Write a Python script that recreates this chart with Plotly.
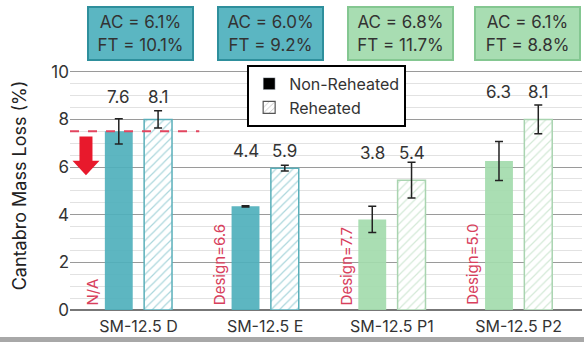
import plotly.graph_objects as go

categories = ["SM-12.5 D", "SM-12.5 E", "SM-12.5 P1", "SM-12.5 P2"]
non_reheated = [7.5, 4.35, 3.8, 6.25]
non_reheated_err = [0.53, 0.03, 0.55, 0.82]
reheated = [8.0, 5.95, 5.45, 8.0]
reheated_err = [0.36, 0.12, 0.75, 0.6]
label_non = ["7.6", "4.4", "3.8", "6.3"]
label_re = ["8.1", "5.9", "5.4", "8.1"]
label_y = [8.95, 6.68, 6.6, 9.16]
ac_values = ["6.1%", "6.0%", "6.8%", "6.1%"]
ft_values = ["10.1%", "9.2%", "11.7%", "8.8%"]
design_labels = ["N/A", "Design=6.6", "Design=7.7", "Design=5.0"]
threshold = 7.5

TEAL = "#4FB0BC"
GREEN = "#A3DBAD"
solid_colors = [TEAL, TEAL, GREEN, GREEN]
hatch_colors = ["#5AAFBA", "#5AAFBA", "#A9D4B0", "#A9D4B0"]
box_fill = ["#5BB6C2", "#5BB6C2", "#A8DDB2", "#A8DDB2"]
box_border = ["#2E8F9C", "#2E8F9C", "#84C791", "#84C791"]

FONT = "Inter, Open Sans, sans-serif"
TXT = "#333333"
W = 0.22

fig = go.Figure()

fig.add_trace(go.Bar(
    x=categories, y=non_reheated, width=W, offset=-0.265,
    marker=dict(color=solid_colors, line=dict(width=0), opacity=0.92),
    error_y=dict(type="data", array=non_reheated_err, color="#222222", thickness=1.5, width=4),
    showlegend=False, hoverinfo="skip",
))
fig.add_trace(go.Bar(
    x=categories, y=reheated, width=W, offset=0.045,
    marker=dict(color="white", line=dict(width=1.5, color=hatch_colors),
                pattern=dict(shape="/", fgcolor=hatch_colors, bgcolor="white", size=6, solidity=0.2)),
    error_y=dict(type="data", array=reheated_err, color="#222222", thickness=1.5, width=4),
    showlegend=False, hoverinfo="skip",
))
# legend entries
fig.add_trace(go.Bar(x=[None], y=[None], name="Non-Reheated", marker=dict(color="black")))
fig.add_trace(go.Bar(x=[None], y=[None], name="Reheated",
                     marker=dict(color="white", line=dict(width=1.2, color="#555555"),
                                 pattern=dict(shape="/", fgcolor="#777777", bgcolor="white", size=5, solidity=0.2))))

annotations = []
for i in range(len(categories)):
    annotations.append(dict(x=i - 0.155, y=label_y[i], xref="x", yref="y", text=label_non[i],
                            showarrow=False, font=dict(size=17, color=TXT, family=FONT)))
    annotations.append(dict(x=i + 0.155, y=label_y[i], xref="x", yref="y", text=label_re[i],
                            showarrow=False, font=dict(size=17, color=TXT, family=FONT)))
    annotations.append(dict(x=i - 0.36, y=0.12, xref="x", yref="y", text=design_labels[i],
                            textangle=-90, showarrow=False, xanchor="center", yanchor="bottom",
                            font=dict(size=15, color="#D8405C", family=FONT)))
    annotations.append(dict(x=[0.02, 1.04, 2.07, 3.07][i], y=1.11, xref="x", yref="paper",
                            xanchor="center", yanchor="middle",
                            text=f"AC = {ac_values[i]}<br>FT = {ft_values[i]}",
                            showarrow=False, bgcolor=box_fill[i], bordercolor=box_border[i],
                            borderwidth=2, borderpad=2, width=99, height=47,
                            font=dict(size=17, color=TXT, family=FONT)))

shapes = [
    dict(type="line", xref="x", yref="y", x0=-0.54, x1=0.48, y0=threshold, y1=threshold,
         line=dict(color="#E2455F", width=2, dash="dash")),
    dict(type="path", xref="paper", yref="y",
         path="M 0.0185 7.28 L 0.0439 7.28 L 0.0439 6.26 L 0.0576 6.26 L 0.0312 5.65 L 0.0049 6.26 L 0.0185 6.26 Z",
         fillcolor="#E8192C", line=dict(width=0)),
    dict(type="rect", xref="paper", yref="paper", x0=-0.2, x1=1.1, y0=-0.14, y1=-0.108,
         fillcolor="#A8A8A8", line=dict(width=0), layer="below"),
]

fig.update_layout(
    width=584, height=342,
    margin=dict(l=70, r=2, t=61, b=32),
    paper_bgcolor="white", plot_bgcolor="white",
    barmode="overlay",
    font=dict(family=FONT, color=TXT, size=16),
    showlegend=True,
    legend=dict(x=0.346, y=0.985, xanchor="left", yanchor="top",
                bordercolor="black", borderwidth=2, bgcolor="white",
                font=dict(size=16, color=TXT, family=FONT),
                tracegroupgap=0, itemwidth=30),
    annotations=annotations,
    shapes=shapes,
    xaxis=dict(type="category", range=[-0.54, 3.5], showgrid=False, showline=False,
               ticks="", tickfont=dict(size=16, color=TXT), zeroline=False,
               ticklabelstandoff=5),
    yaxis=dict(range=[0, 10.45], tickvals=[0, 2, 4, 6, 8, 10], showgrid=True,
               gridcolor="#9A9A9A", gridwidth=1, zeroline=True, zerolinecolor="#777777",
               zerolinewidth=1.5, ticks="", tickfont=dict(size=17, color=TXT),
               minor=dict(dtick=0.5, showgrid=True, gridcolor="#E2E2E2", gridwidth=1),
               title=dict(text="Cantabro Mass Loss (%)", font=dict(size=18, color="#222222"), standoff=20)),
)

fig.write_html("out.html", config={"displayModeBar": False},
               post_script="document.body.style.margin='0';")
